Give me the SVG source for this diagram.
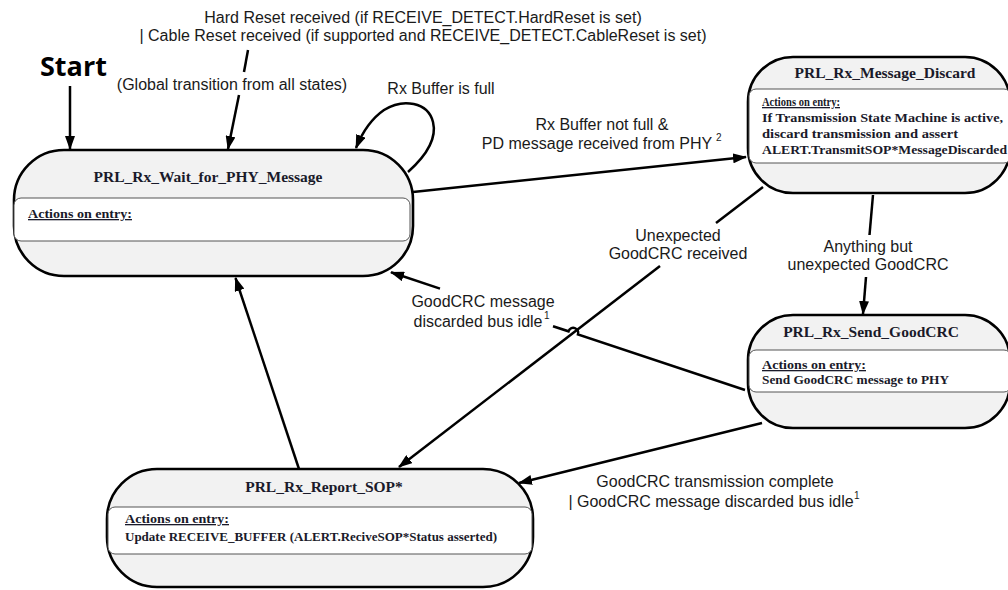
<svg xmlns="http://www.w3.org/2000/svg" width="1008" height="590" viewBox="0 0 1008 590">
<style>
.outer{fill:#f2f2f2;stroke:#000;stroke-width:2.6}
.inner{fill:#fff;stroke:#555;stroke-width:1}
.title{font-family:"Liberation Serif",serif;font-weight:bold;font-size:15.5px;fill:#1a1a2a;text-anchor:middle}
.body{font-family:"Liberation Serif",serif;font-weight:bold;font-size:13px;fill:#1a1a2a}
.ul{text-decoration:underline}
.lbl{font-family:"Liberation Sans",Arial,sans-serif;font-size:16px;fill:#1a1a1a;text-anchor:middle}
.sup{font-family:"Liberation Sans",Arial,sans-serif;font-size:10px;fill:#1a1a1a}
.start{font-family:"Open Sans",sans-serif;font-weight:bold;font-size:27px;fill:#000}
.conn{fill:none;stroke:#000;stroke-width:2.5}
</style>
<defs>
<marker id="arr" viewBox="0 0 14 10" refX="13" refY="5" markerWidth="14" markerHeight="10" markerUnits="userSpaceOnUse" orient="auto">
<path d="M0,0 L14,5 L0,10 z" fill="#000"/>
</marker>
</defs>

<text class="start" x="40" y="76">Start</text>

<g id="connectors">
<path class="conn" d="M70,86 L70,149" marker-end="url(#arr)"/>
<path class="conn" d="M248,50 L244,72"/>
<path class="conn" d="M239,95 L228,149" marker-end="url(#arr)"/>
<path class="conn" d="M408,172 C427,155 437,138 433,122 C428,102 403,98 384,110 C371,119 362,133 356,148" marker-end="url(#arr)"/>
<path class="conn" d="M413,192 L746,157" marker-end="url(#arr)"/>
<path class="conn" d="M763,187 L716,223"/>
<path class="conn" d="M660,266 L399,467" marker-end="url(#arr)"/>
<path class="conn" d="M873,195 L869.5,235"/>
<path class="conn" d="M866,277 L863,314" marker-end="url(#arr)"/>
<path class="conn" d="M745,390 L578,334.5 A5,5 0 0 0 568.5,331.3 L553,326.2"/>
<path class="conn" d="M440,288.6 L391,272.3" marker-end="url(#arr)"/>
<path class="conn" d="M762,423 L519,483" marker-end="url(#arr)"/>
<path class="conn" d="M299,469 L235.5,278" marker-end="url(#arr)"/>
</g>

<g id="labels">
<text class="lbl" x="423" y="23">Hard Reset received (if RECEIVE_DETECT.HardReset is set)</text>
<text class="lbl" x="423" y="41">| Cable Reset received (if supported and RECEIVE_DETECT.CableReset is set)</text>
<text class="lbl" x="232" y="90">(Global transition from all states)</text>
<text class="lbl" x="441" y="94">Rx Buffer is full</text>
<text class="lbl" x="602" y="130">Rx Buffer not full &amp;</text>
<text class="lbl" x="597" y="149">PD message received from PHY</text>
<text class="sup" x="716" y="141">2</text>
<text class="lbl" x="678" y="241">Unexpected</text>
<text class="lbl" x="678" y="259">GoodCRC received</text>
<text class="lbl" x="483" y="307">GoodCRC message</text>
<text class="lbl" x="478" y="327">discarded bus idle</text>
<text class="sup" x="544" y="319">1</text>
<text class="lbl" x="868" y="252">Anything but</text>
<text class="lbl" x="868" y="270">unexpected GoodCRC</text>
<text class="lbl" x="715" y="487">GoodCRC transmission complete</text>
<text class="lbl" x="711" y="507">| GoodCRC message discarded bus idle</text>
<text class="sup" x="854" y="499">1</text>
</g>

<g id="PRL_Rx_Wait_for_PHY_Message">
<rect class="outer" x="14" y="150" width="399" height="126" rx="50" ry="50"/>
<rect class="inner" x="14" y="198" width="396" height="43" rx="7" ry="7"/>
<text class="title" x="208" y="182">PRL_Rx_Wait_for_PHY_Message</text>
<text class="body ul" x="28" y="218" font-size="13.5" textLength="104" lengthAdjust="spacingAndGlyphs">Actions on entry:</text>
</g>

<g id="PRL_Rx_Message_Discard">
<rect class="outer" x="748" y="57" width="262" height="136" rx="45" ry="45"/>
<rect class="inner" x="749" y="89" width="262" height="74" rx="7" ry="7"/>
<text class="title" x="885" y="78">PRL_Rx_Message_Discard</text>
<text class="body ul" x="762" y="106" font-size="11" textLength="78" lengthAdjust="spacingAndGlyphs">Actions on entry:</text>
<text class="body" x="762" y="122" textLength="241" lengthAdjust="spacingAndGlyphs">If Transmission State Machine is active,</text>
<text class="body" x="762" y="138" textLength="196" lengthAdjust="spacingAndGlyphs">discard transmission and assert</text>
<text class="body" x="762" y="154" textLength="245" lengthAdjust="spacingAndGlyphs">ALERT.TransmitSOP*MessageDiscarded</text>
</g>

<g id="PRL_Rx_Send_GoodCRC">
<rect class="outer" x="748" y="315" width="262" height="113" rx="45" ry="45"/>
<rect class="inner" x="749" y="350" width="262" height="42" rx="7" ry="7"/>
<text class="title" x="871" y="337">PRL_Rx_Send_GoodCRC</text>
<text class="body ul" x="762" y="369" font-size="13.5" textLength="104" lengthAdjust="spacingAndGlyphs">Actions on entry:</text>
<text class="body" x="762" y="384" textLength="187" lengthAdjust="spacingAndGlyphs">Send GoodCRC message to PHY</text>
</g>

<g id="PRL_Rx_Report_SOP">
<rect class="outer" x="107" y="469" width="426" height="118" rx="50" ry="50"/>
<rect class="inner" x="108" y="507" width="424" height="47" rx="7" ry="7"/>
<text class="title" x="324" y="492">PRL_Rx_Report_SOP*</text>
<text class="body ul" x="125" y="523" font-size="13.5" textLength="104" lengthAdjust="spacingAndGlyphs">Actions on entry:</text>
<text class="body" x="125" y="541" textLength="372" lengthAdjust="spacingAndGlyphs">Update RECEIVE_BUFFER (ALERT.ReciveSOP*Status asserted)</text>
</g>
</svg>
